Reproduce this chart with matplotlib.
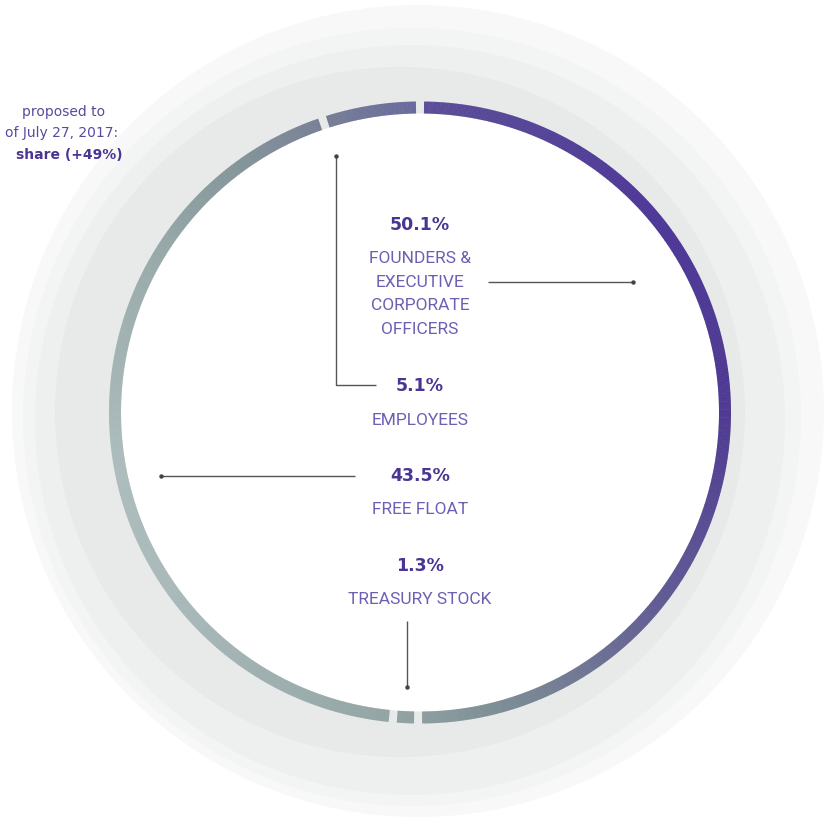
import numpy as np
import matplotlib.pyplot as plt
from matplotlib.patches import Wedge, Circle
from matplotlib.colors import LinearSegmentedColormap

# shareholding, clockwise from 12 o'clock
categories = ['FOUNDERS &\nEXECUTIVE\nCORPORATE\nOFFICERS', 'TREASURY STOCK', 'FREE FLOAT', 'EMPLOYEES']
shares = [50.1, 1.3, 43.5, 5.1]
pct_labels = ['50.1%', '1.3%', '43.5%', '5.1%']

note_lines = ['proposed to', 'of July 27, 2017:', 'share (+49%)']

W, H = 824, 820
fig = plt.figure(figsize=(W / 100, H / 100), dpi=100)
ax = fig.add_axes([0, 0, 1, 1])
ax.set_xlim(0, W)
ax.set_ylim(H, 0)
ax.set_aspect('equal')
ax.axis('off')

# soft grey background discs
bg = [((418, 412), 406, '#f8f8f8'),
      ((412, 418), 389, '#f3f4f4'),
      ((410, 421), 375, '#eef0ef'),
      ((400, 413), 345, '#e8eaea')]
for c, r, col in bg:
    ax.add_patch(Circle(c, r, color=col, lw=0, zorder=0))

cx, cy = 420, 413.5
r_out, width = 311, 12
ax.add_patch(Circle((cx, cy), r_out - width, color='white', lw=0, zorder=1))

# conic gradient of the ring
keys = [(0, '#5c4f98'), (50, '#4e3898'), (90, '#4f3b92'), (130, '#625e94'),
        (165, '#7d8e94'), (185, '#93a4a4'), (230, '#a9b9b9'), (260, '#adbdbd'),
        (300, '#9aabac'), (325, '#84959a'), (345, '#757d96'), (360, '#6a6a9e')]
cmap = LinearSegmentedColormap.from_list('ring', [(k / 360, c) for k, c in keys])

gap = 0.8  # degrees of white between segments
start = 0.0
for s in shares:
    span = s / 100 * 360
    a0, a1 = start + gap, start + span - gap
    n = max(int((a1 - a0) / 0.5), 1)
    edges = np.linspace(a0, a1, n + 1)
    for t0, t1 in zip(edges[:-1], edges[1:]):
        col = cmap(((t0 + t1) / 2) / 360)
        # clockwise-from-top angle -> matplotlib angle (y axis inverted)
        ax.add_patch(Wedge((cx, cy), r_out, t0 - 90 - 0.05, t1 - 90 + 0.05,
                           width=width, color=col, lw=0, zorder=2))
    start += span

line_col = '#555555'
def leader(xs, ys, dot):
    ax.plot(xs, ys, color=line_col, lw=1, zorder=3, solid_capstyle='butt')
    ax.plot(*dot, 'o', color='#444444', ms=2.2, zorder=3)

leader([336, 336, 376], [157, 386, 386], (336, 157))
leader([488, 633], [283, 283], (633, 283))
leader([161, 355], [477, 477], (161, 477))
leader([407, 407], [622, 688], (407, 688))

val_col = '#4a3592'
lab_col = '#6e5fb3'
val_font = dict(family=['DejaVu Sans'], weight='bold', size=12.5, color=val_col)
lab_font = dict(family=['Roboto', 'DejaVu Sans'], size=12.5, color=lab_col)

val_y = [225, 566, 476, 386]
lab_y = [294, 600, 510, 421]
for cat, pct, vy, ly in zip(categories, pct_labels, val_y, lab_y):
    ax.text(420, vy, pct, ha='center', va='center', zorder=4, **val_font)
    ax.text(420, ly, cat, ha='center', va='center', linespacing=1.7, zorder=4, **lab_font)

note_font = dict(family=['DejaVu Sans'], size=10)
ax.text(105, 112, note_lines[0], ha='right', va='center', color='#5a4a9e', **note_font)
ax.text(118, 133, note_lines[1], ha='right', va='center', color='#5a4a9e', **note_font)
ax.text(123, 155, note_lines[2], ha='right', va='center', weight='bold',
        color='#4a3592', **note_font)

fig.savefig('out.png', dpi=100, facecolor='white')
